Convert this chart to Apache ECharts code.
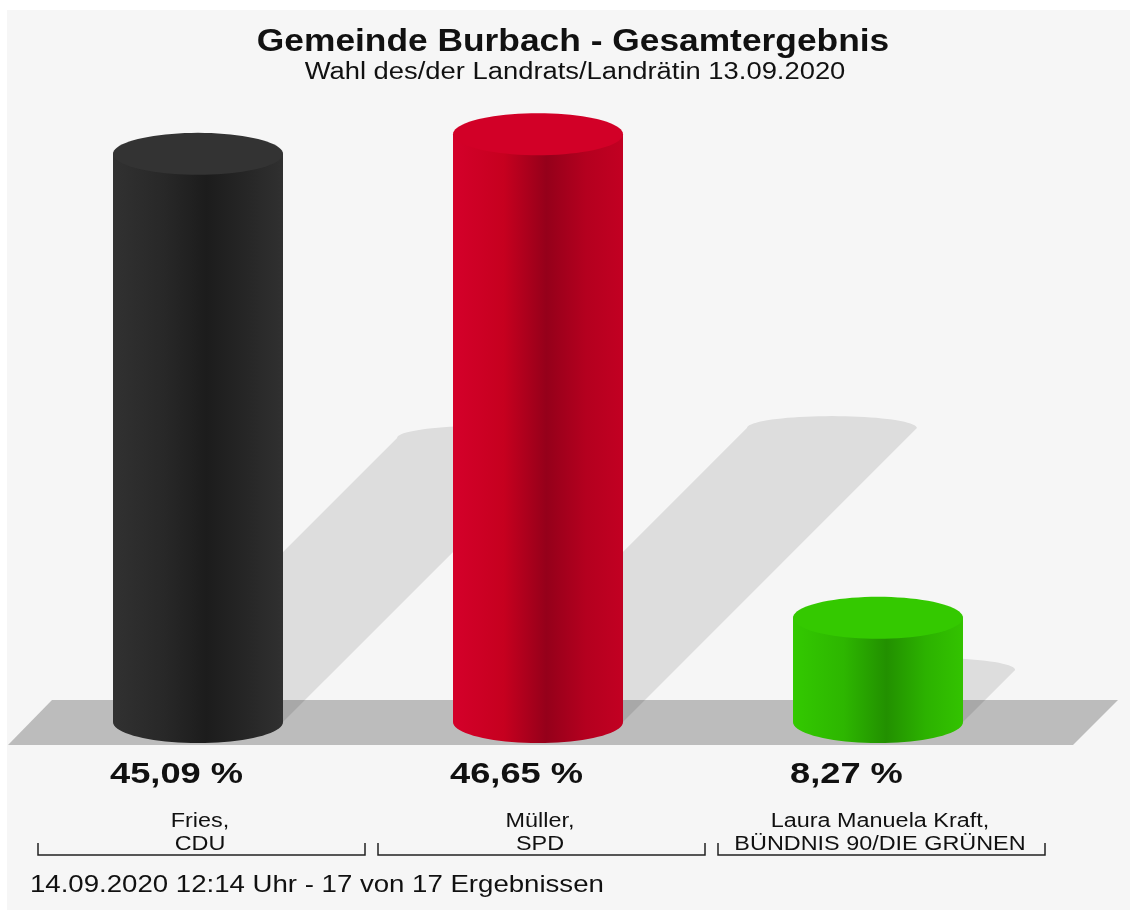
<!DOCTYPE html>
<html>
<head>
<meta charset="utf-8">
<title>Gemeinde Burbach - Gesamtergebnis</title>
<script src="https://cdn.jsdelivr.net/npm/echarts@6/dist/echarts.min.js"></script>
<style>
    html, body { margin: 0; padding: 0; background: #fff; }
    #chart { width: 1130px; height: 910px; }
</style>
</head>
<body>
<div id="chart"></div>
<script>
// Daten
const candidates = ['Fries,\nCDU', 'Müller,\nSPD', 'Laura Manuela Kraft,\nBÜNDNIS 90/DIE GRÜNEN'];
const shares = [45.09, 46.65, 8.27];
const barColors = [
    { top: '#333333', stops: ['#313131', '#282828', '#1c1c1c', '#262626', '#303030'] },
    { top: '#d20027', stops: ['#d4002a', '#c6001f', '#95001a', '#b4001f', '#c20022'] },
    { top: '#34c900', stops: ['#33c900', '#2db600', '#229000', '#2cb200', '#33c300'] }
];
const titleText = 'Gemeinde Burbach - Gesamtergebnis';
const subtitleText = 'Wahl des/der Landrats/Landrätin 13.09.2020';
const footerText = '14.09.2020 12:14 Uhr - 17 von 17 Ergebnissen';

const FONT = '"Liberation Sans", Arial, Helvetica, sans-serif';
// die Schrift im Original ist etwas breiter gezogen
const WIDE = 1.17;

// Halbe Ellipse als Punktliste (von links nach rechts)
function halfEllipse(cx, cy, rx, ry, upper) {
    const pts = [];
    const n = 40;
    for (let i = 0; i <= n; i++) {
        const a = Math.PI - (Math.PI * i / n);
        const y = upper ? cy - Math.sin(a) * ry : cy + Math.sin(a) * ry;
        pts.push([cx + Math.cos(a) * rx, y]);
    }
    return pts;
}

function renderShadow(params, api) {
    const idx = api.value(0);
    const base = api.coord([idx, 0]);
    const top = api.coord([idx, api.value(1)]);
    const rx = api.size([1, 0])[0] * 0.25;
    const shift = (base[1] - top[1]) / 2;
    const topY = base[1] - shift;
    const pts = [[base[0] - rx, base[1]]]
        .concat(halfEllipse(base[0] + shift, topY, rx, 12, true))
        .concat([[base[0] + rx, base[1]]]);
    return {
        type: 'polygon',
        shape: { points: pts },
        style: { fill: 'rgba(0,0,0,0.1)' },
        silent: true
    };
}

function renderBar(params, api) {
    const idx = api.value(0);
    const val = api.value(1);
    const base = api.coord([idx, 0]);
    const top = api.coord([idx, val]);
    const bandW = api.size([1, 0])[0];
    const rx = bandW * 0.25;
    const ry = 21;
    const cx = base[0];
    const c = barColors[idx];
    const s = c.stops;

    const body = [[cx - rx, top[1]]]
        .concat(halfEllipse(cx, base[1], rx, ry, false))
        .concat([[cx + rx, top[1]]]);
    const cap = halfEllipse(cx, top[1], rx, ry, true)
        .concat(halfEllipse(cx, top[1], rx, ry, false).reverse());

    const bracketY = base[1] + 133;
    const bl = cx - bandW / 2 + 10;
    const br = cx + bandW / 2 - 3;

    return {
        type: 'group',
        children: [
            {
                type: 'polygon',
                shape: { points: body },
                style: {
                    fill: new echarts.graphic.LinearGradient(0, 0, 1, 0, [
                        { offset: 0, color: s[0] },
                        { offset: 0.3, color: s[1] },
                        { offset: 0.55, color: s[2] },
                        { offset: 0.78, color: s[3] },
                        { offset: 1, color: s[4] }
                    ])
                }
            },
            {
                type: 'polygon',
                shape: { points: cap },
                style: { fill: c.top }
            },
            {
                type: 'text',
                x: cx - rx - 3,
                y: base[1] + 53,
                scaleX: 1.25,
                style: {
                    x: 0,
                    y: 0,
                    text: val.toFixed(2).replace('.', ',') + ' %',
                    font: 'bold 29px ' + FONT,
                    fill: '#111',
                    align: 'left',
                    verticalAlign: 'middle'
                }
            },
            {
                type: 'text',
                x: cx + 2,
                y: base[1] + 111,
                scaleX: WIDE,
                style: {
                    x: 0,
                    y: 0,
                    text: candidates[idx],
                    font: '20px ' + FONT,
                    lineHeight: 23,
                    fill: '#111',
                    align: 'center',
                    verticalAlign: 'middle'
                }
            },
            {
                type: 'polyline',
                shape: { points: [[bl, bracketY - 12], [bl, bracketY], [br, bracketY], [br, bracketY - 12]] },
                style: { stroke: '#222', lineWidth: 1.5, fill: null }
            }
        ]
    };
}

function wideText(text, x, y, font, align, sx) {
    return {
        type: 'text',
        x: x,
        y: y,
        scaleX: sx,
        z: 10,
        style: { x: 0, y: 0, text: text, font: font, fill: '#111', align: align, verticalAlign: 'middle' }
    };
}

const chart = echarts.init(document.getElementById('chart'));
const option = {
    backgroundColor: '#ffffff',
    animation: false,
    graphic: [
        {
            type: 'rect',
            z: -10,
            shape: { x: 7, y: 10, width: 1123, height: 900 },
            style: { fill: '#f6f6f6' },
            silent: true
        },
        {
            type: 'polygon',
            z: -5,
            shape: { points: [[52, 700], [1118, 700], [1073, 745], [8, 745]] },
            style: { fill: '#bcbcbc' },
            silent: true
        },
        wideText(titleText, 573, 42, 'bold 31px ' + FONT, 'center', 1.14),
        wideText(subtitleText, 575, 73, '23px ' + FONT, 'center', 1.19),
        wideText(footerText, 30, 885, '24px ' + FONT, 'left', 1.15)
    ],
    grid: { left: 28, right: 82, top: 92, bottom: 188 },
    xAxis: {
        type: 'category',
        data: candidates,
        axisLine: { show: false },
        axisTick: { show: false },
        axisLabel: { show: false }
    },
    yAxis: {
        type: 'value',
        min: 0,
        max: 50,
        show: false
    },
    series: [
        {
            type: 'custom',
            z: 1,
            renderItem: renderShadow,
            data: shares.map((v, i) => [i, v])
        },
        {
            type: 'custom',
            z: 2,
            renderItem: renderBar,
            data: shares.map((v, i) => [i, v])
        }
    ]
};
chart.setOption(option);
window.addEventListener('resize', () => chart.resize());
</script>
</body>
</html>
